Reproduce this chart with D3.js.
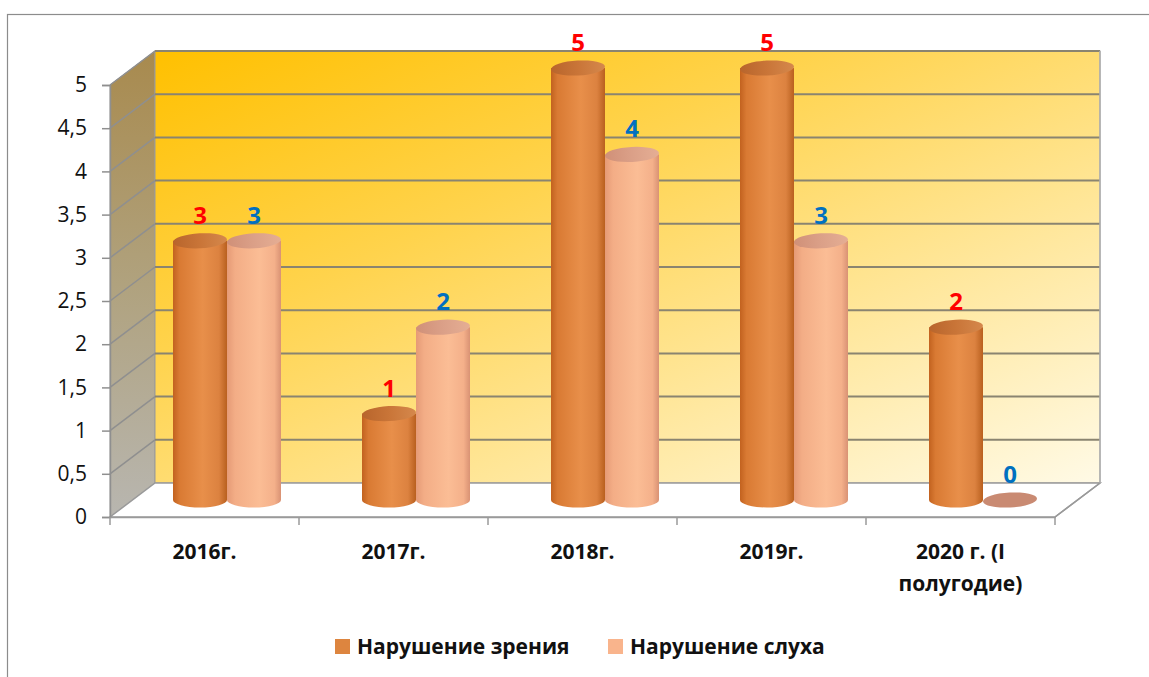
<!DOCTYPE html>
<html>
<head>
<meta charset="utf-8">
<script src="https://cdn.jsdelivr.net/npm/d3@7"></script>
<style>
  html, body { margin: 0; padding: 0; background: #fff; }
  svg { display: block; }
  text { font-family: "Open Sans", "Noto Sans", sans-serif; }
</style>
</head>
<body>
<svg id="chart" width="1149" height="677"></svg>
<script>
// Years and the two series of counts
const categories = ["2016г.", "2017г.", "2018г.", "2019г.", "2020 г. (I полугодие)"];
const seriesNames = ["Нарушение зрения", "Нарушение слуха"];
const vision = [3, 1, 5, 5, 2];
const hearing = [3, 2, 4, 3, 0];
const yTicks = [0, 0.5, 1, 1.5, 2, 2.5, 3, 3.5, 4, 4.5, 5];

const svg = d3.select("#chart");
const defs = svg.append("defs");

// Plot geometry: front plane, depth offset of the 3D box
const front = { left: 110, right: 1055, top: 85, bottom: 517 };
const depth = { dx: 45, dy: -34 };
const mid = { dx: depth.dx / 2, dy: depth.dy / 2 };

const x = d3.scaleBand().domain(categories).range([front.left, front.right]).padding(0);
const xs = d3.scaleBand().domain(seriesNames).range([0, x.bandwidth()]).paddingInner(0).paddingOuter(0.75);
const y = d3.scaleLinear().domain([0, 5]).range([front.bottom, front.top]);

const fmt = v => String(v).replace(".", ",");

// Outer chart frame
svg.append("rect").attr("x", 7.5).attr("y", 14.5).attr("width", 1160).attr("height", 700)
  .attr("fill", "none").attr("stroke", "#8c8c8c").attr("stroke-width", 1.2);

// Gradients
const wallGrad = defs.append("linearGradient").attr("id", "wallGrad")
  .attr("x1", "0%").attr("y1", "0%").attr("x2", "100%").attr("y2", "100%");
wallGrad.append("stop").attr("offset", "0%").attr("stop-color", "#ffc000");
wallGrad.append("stop").attr("offset", "35%").attr("stop-color", "#ffd34c");
wallGrad.append("stop").attr("offset", "70%").attr("stop-color", "#ffe8a0");
wallGrad.append("stop").attr("offset", "100%").attr("stop-color", "#fffae6");

const sideGrad = defs.append("linearGradient").attr("id", "sideGrad")
  .attr("x1", "0%").attr("y1", "0%").attr("x2", "0%").attr("y2", "100%");
sideGrad.append("stop").attr("offset", "0%").attr("stop-color", "#a88a4e");
sideGrad.append("stop").attr("offset", "50%").attr("stop-color", "#b0a27e");
sideGrad.append("stop").attr("offset", "100%").attr("stop-color", "#b8b6b0");

function cylGrad(id, stops) {
  const g = defs.append("linearGradient").attr("id", id)
    .attr("x1", "0%").attr("y1", "0%").attr("x2", "100%").attr("y2", "0%");
  stops.forEach(([o, c]) => g.append("stop").attr("offset", o).attr("stop-color", c));
}
cylGrad("bodyA", [["0%", "#c2621f"], ["12%", "#d97a33"], ["55%", "#e88f4a"], ["85%", "#dc8240"], ["100%", "#b9601f"]]);
cylGrad("topA", [["0%", "#b8652c"], ["50%", "#c97538"], ["100%", "#d5884c"]]);
cylGrad("bodyB", [["0%", "#e59a76"], ["15%", "#f3ad86"], ["60%", "#fbbd95"], ["88%", "#f4b08a"], ["100%", "#d99274"]]);
cylGrad("topB", [["0%", "#d09078"], ["50%", "#dba088"], ["100%", "#e5ae94"]]);

const bx = v => v + depth.dx;

// Left side wall
svg.append("polygon")
  .attr("points", [[front.left, y(5)], [bx(front.left), y(5) + depth.dy], [bx(front.left), y(0) + depth.dy], [front.left, y(0)]].join(" "))
  .attr("fill", "url(#sideGrad)").attr("stroke", "#9a9a9a").attr("stroke-width", 1);

// Back wall
const backRight = front.right + depth.dx;
svg.append("rect")
  .attr("x", bx(front.left)).attr("y", y(5) + depth.dy)
  .attr("width", backRight - bx(front.left)).attr("height", y(0) - y(5))
  .attr("fill", "url(#wallGrad)").attr("stroke", "#999").attr("stroke-width", 1);

// Floor
svg.append("polygon")
  .attr("points", [[front.left, y(0)], [bx(front.left), y(0) + depth.dy], [backRight, y(0) + depth.dy], [front.right, y(0)]].join(" "))
  .attr("fill", "#ffffff").attr("stroke", "#9a9a9a").attr("stroke-width", 1.5);

// Gridlines across the back wall and the side wall
const grid = svg.append("g");
yTicks.filter(t => t > 0).forEach(t => {
  const yy = y(t);
  grid.append("line").attr("x1", bx(front.left)).attr("x2", backRight)
    .attr("y1", yy + depth.dy).attr("y2", yy + depth.dy)
    .attr("stroke", "#8a8470").attr("stroke-width", 2);
  grid.append("line").attr("x1", front.left).attr("x2", bx(front.left))
    .attr("y1", yy).attr("y2", yy + depth.dy)
    .attr("stroke", "#8f8f8f").attr("stroke-width", 1.5);
});
// Right edge of back wall
grid.append("line").attr("x1", backRight).attr("x2", backRight)
  .attr("y1", y(5) + depth.dy).attr("y2", y(0) + depth.dy)
  .attr("stroke", "#b0b0b0").attr("stroke-width", 1.5);

// Y axis
const yAxis = d3.axisLeft(y).tickValues(yTicks).tickFormat(fmt).tickSize(8).tickPadding(15);
const yg = svg.append("g").attr("transform", `translate(${front.left},0)`).call(yAxis);
yg.select(".domain").attr("stroke", "#8f8f8f").attr("stroke-width", 1.5);
yg.selectAll(".tick line").attr("stroke", "#8f8f8f").attr("stroke-width", 1.5);
yg.selectAll(".tick text").attr("font-size", 21).attr("fill", "#111")
  .attr("font-family", "Open Sans, sans-serif");

// X axis along the front floor edge
const xAxis = d3.axisBottom(x).tickSize(0).tickFormat("");
const xg = svg.append("g").attr("transform", `translate(0,${front.bottom})`).call(xAxis);
xg.select(".domain").attr("stroke", "#9a9a9a").attr("stroke-width", 1.5);
const xEdges = categories.map(c => x(c)).concat([front.right]);
xg.selectAll(".edge").data(xEdges).enter().append("line")
  .attr("x1", d => d).attr("x2", d => d).attr("y1", 0).attr("y2", 8)
  .attr("stroke", "#9a9a9a").attr("stroke-width", 1.5);
// Right floor edge
svg.append("line").attr("x1", front.right).attr("y1", y(0)).attr("x2", backRight).attr("y2", y(0) + depth.dy)
  .attr("stroke", "#9a9a9a").attr("stroke-width", 1.5);

// Category labels (wrapped where needed)
const catLines = { "2020 г. (I полугодие)": ["2020 г. (I", "полугодие)"] };
categories.forEach(c => {
  const lines = catLines[c] || [c];
  const cx = x(c) + x.bandwidth() / 2;
  const t = svg.append("text").attr("x", cx).attr("y", 559)
    .attr("text-anchor", "middle").attr("font-weight", "bold").attr("font-size", 21).attr("fill", "#111");
  lines.forEach((l, i) => t.append("tspan").attr("x", cx).attr("dy", i === 0 ? 0 : 32).text(l));
});

// Cylinders
const ry = 7.5;
const data = [];
categories.forEach((c, i) => {
  data.push({ c, s: seriesNames[0], v: vision[i], body: "url(#bodyA)", top: "url(#topA)", label: "#ff0000" });
  data.push({ c, s: seriesNames[1], v: hearing[i], body: "url(#bodyB)", top: "url(#topB)", label: "#0070c0" });
});

const bars = svg.append("g");
data.forEach(d => {
  const x0 = x(d.c) + xs(d.s) + mid.dx;
  const w = xs.bandwidth();
  const rx = w / 2;
  const cx = x0 + rx;
  const yb = y(0) + mid.dy;
  const yt = y(d.v) + mid.dy;
  const g = bars.append("g");
  if (d.v > 0) {
    // side of the cylinder with the lower half of its base ellipse
    g.append("path")
      .attr("d", `M${x0},${yt} L${x0},${yb} A${rx},${ry} 0 0 0 ${x0 + w},${yb} L${x0 + w},${yt} Z`)
      .attr("fill", d.body);
  }
  g.append("ellipse").attr("cx", cx).attr("cy", yt).attr("rx", rx).attr("ry", ry)
    .attr("transform", `rotate(-3 ${cx} ${yt})`)
    .attr("fill", d.v > 0 ? d.top : "#c98a72");
  g.append("text").attr("x", cx).attr("y", yt - 17)
    .attr("text-anchor", "middle").attr("font-weight", "bold").attr("font-size", 24)
    .attr("fill", d.label).text(fmt(d.v));
});

// Legend
const legend = svg.append("g");
const legendItems = [
  { name: seriesNames[0], color: "#dd853f", x: 335 },
  { name: seriesNames[1], color: "#f9b48c", x: 608 }
];
legendItems.forEach(it => {
  legend.append("rect").attr("x", it.x).attr("y", 639).attr("width", 15).attr("height", 15).attr("fill", it.color);
  legend.append("text").attr("x", it.x + 22).attr("y", 654).attr("font-weight", "bold").attr("font-size", 21)
    .attr("fill", "#111").text(it.name);
});
</script>
</body>
</html>
